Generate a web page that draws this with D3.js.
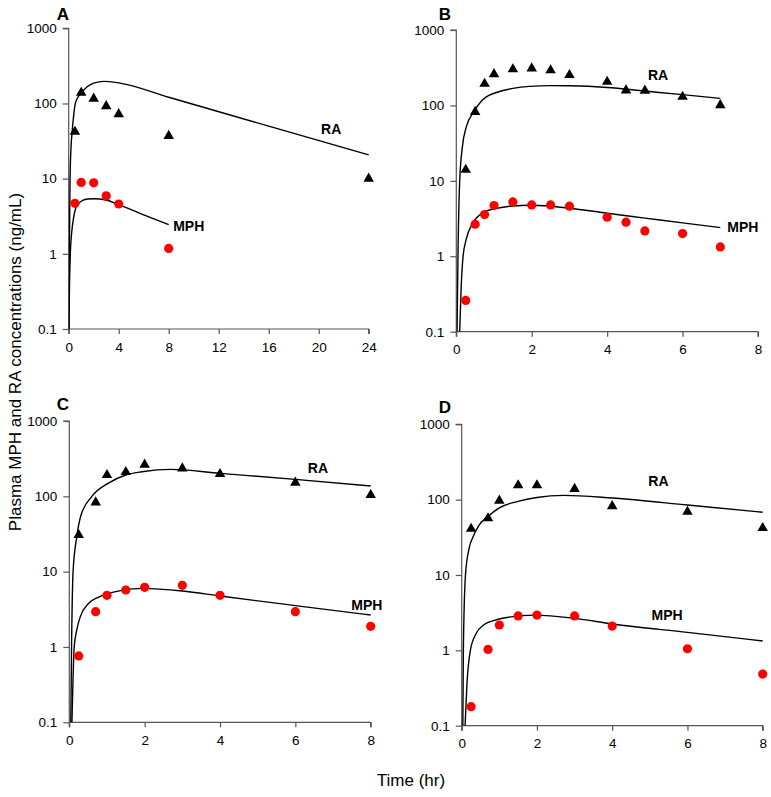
<!DOCTYPE html>
<html>
<head>
<meta charset="utf-8">
<script src="https://cdn.jsdelivr.net/npm/d3@7"></script>
<style>
  html, body { margin: 0; padding: 0; background: #fff; }
  svg { display: block; font-family: "Liberation Sans", Arial, sans-serif; }
</style>
</head>
<body>
<svg id="chart" width="771" height="797"></svg>
<script>
// ---------- Data ----------
const yTickValues = [0.1, 1, 10, 100, 1000];
const yTickLabels = ["0.1", "1", "10", "100", "1000"];
const xTicksA = [0, 4, 8, 12, 16, 20, 24];
const xTicksBCD = [0, 2, 4, 6, 8];
const panelLetters = ["A", "B", "C", "D"];
const xMaxes = [24, 8, 8, 8];

// Panel A observed
const obsTimeA = [0.5, 1, 2, 3, 4, 8, 24];
const raObsA = [42, 139, 116, 92, 72, 37, 10];
const mphTimeA = [0.5, 1, 2, 3, 4, 8];
const mphObsA = [4.7, 8.9, 8.8, 5.9, 4.6, 1.18];
// Panel A fitted curves
const raFitTimeA = [0.02, 0.05, 0.11, 0.18, 0.27, 0.4, 0.53, 0.75, 1, 1.5, 2, 2.8, 4, 8, 16, 24];
const raFitA = [0.1, 1, 10, 25, 41, 70, 100, 122, 138, 168, 187, 197, 188, 121, 50, 20.7];
const mphFitTimeA = [0.02, 0.06, 0.13, 0.25, 0.4, 0.6, 1, 1.5, 2, 3, 4, 6, 8];
const mphFitA = [0.1, 0.35, 1, 2.0, 3.08, 4.2, 5.0, 5.35, 5.4, 5.2, 4.5, 3.3, 2.44];

// Panel B observed
const obsTimeB = [0.25, 0.5, 0.75, 1, 1.5, 2, 2.5, 3, 4, 4.5, 5, 6, 7];
const raObsB = [14, 82, 194, 260, 301, 310, 292, 253, 206, 158, 157, 130, 101];
const mphObsB = [0.26, 2.66, 3.57, 4.71, 5.26, 4.8, 4.8, 4.61, 3.29, 2.83, 2.17, 2.0, 1.33];
// Panel B fitted curves
const raFitTimeB = [0.02, 0.044, 0.09, 0.16, 0.265, 0.47, 0.7, 1.15, 1.5, 1.94, 2.5, 3, 4, 5, 6, 7];
const raFitB = [0.1, 1, 10, 28, 52, 83, 119, 153, 168, 179, 183, 182, 173, 155, 139, 124];
const mphFitTimeB = [0.09, 0.13, 0.18, 0.26, 0.44, 0.71, 1, 1.5, 1.94, 2.5, 3, 4, 5, 6, 7];
const mphFitB = [0.1, 0.4, 1, 1.66, 2.77, 3.8, 4.25, 4.65, 4.75, 4.6, 4.34, 3.72, 3.21, 2.77, 2.4];

// Panel C observed
const obsTimeC = [0.25, 0.7, 1, 1.5, 2, 3, 4, 6, 8];
const raObsC = [30.7, 83, 192, 210, 263, 235, 198, 152, 104];
const mphObsC = [0.76, 2.94, 4.85, 5.71, 6.19, 6.59, 4.85, 2.94, 1.88];
// Panel C fitted curves
const raFitTimeC = [0.04, 0.06, 0.1, 0.2, 0.3, 0.6, 1.04, 1.5, 1.93, 2.7, 4, 6, 8];
const raFitC = [0.1, 1, 10, 29.3, 54, 100, 150, 192, 212, 228, 202, 168, 137];
const mphFitTimeC = [0.07, 0.1, 0.13, 0.2, 0.29, 0.51, 0.78, 1.2, 1.93, 3, 4, 6, 8];
const mphFitC = [0.1, 0.4, 1, 1.7, 2.51, 3.78, 4.6, 5.4, 6.0, 5.54, 4.75, 3.54, 2.66];

// Panel D observed
const obsTimeD = [0.25, 0.7, 1, 1.5, 2, 3, 4, 6, 8];
const raObsD = [41, 56.5, 97, 155, 155, 139, 82, 69, 42];
const mphObsD = [0.179, 1.03, 2.17, 2.86, 2.94, 2.86, 2.1, 1.05, 0.485];
// Panel D fitted curves
const raFitTimeD = [0.03, 0.044, 0.1, 0.2, 0.3, 0.45, 0.7, 1, 1.5, 2, 2.7, 4, 6, 8];
const raFitD = [0.1, 1, 10, 23, 32, 45, 60, 78, 95, 107, 114, 105, 85, 68];
const mphFitTimeD = [0.09, 0.14, 0.23, 0.38, 0.6, 0.87, 1.3, 1.93, 3, 4, 6, 8];
const mphFitD = [0.1, 0.36, 1, 1.66, 2.2, 2.5, 2.78, 2.93, 2.66, 2.24, 1.73, 1.33];

// Curve label anchors (data coordinates: time, value)
const raLabelPos = [[21, 45], [5.35, 255], [6.6, 240], [5.23, 177]];
const mphLabelPos = [[9.6, 2.35], [7.6, 2.4], [7.9, 3.55], [5.46, 2.94]];

// ---------- Layout ----------
const panelBoxes = [
  { x0: 68.7, x1: 368.7, yTop: 28.3, yBot: 329.0, lx: 63, ly: 20 },
  { x0: 456.3, x1: 758.0, yTop: 30.0, yBot: 331.7, lx: 445, ly: 20 },
  { x0: 69.3, x1: 370.7, yTop: 421.0, yBot: 722.3, lx: 63, ly: 410 },
  { x0: 461.7, x1: 762.7, yTop: 424.3, yBot: 725.7, lx: 445, ly: 413 }
];

const panels = [
  { xTicks: xTicksA, raT: obsTimeA, ra: raObsA, mphT: mphTimeA, mph: mphObsA,
    raFT: raFitTimeA, raF: raFitA, mphFT: mphFitTimeA, mphF: mphFitA },
  { xTicks: xTicksBCD, raT: obsTimeB, ra: raObsB, mphT: obsTimeB, mph: mphObsB,
    raFT: raFitTimeB, raF: raFitB, mphFT: mphFitTimeB, mphF: mphFitB },
  { xTicks: xTicksBCD, raT: obsTimeC, ra: raObsC, mphT: obsTimeC, mph: mphObsC,
    raFT: raFitTimeC, raF: raFitC, mphFT: mphFitTimeC, mphF: mphFitC },
  { xTicks: xTicksBCD, raT: obsTimeD, ra: raObsD, mphT: obsTimeD, mph: mphObsD,
    raFT: raFitTimeD, raF: raFitD, mphFT: mphFitTimeD, mphF: mphFitD }
];

const svg = d3.select("#chart");
const axisColor = "#555";
const tri = d3.symbol().type(d3.symbolTriangle).size(48);

panels.forEach((p, i) => {
  const b = panelBoxes[i];
  const x = d3.scaleLinear().domain([0, xMaxes[i]]).range([b.x0, b.x1]);
  const y = d3.scaleLog().domain([0.1, 1000]).range([b.yBot, b.yTop]);
  const g = svg.append("g");

  const clipId = "clip" + i;
  svg.append("clipPath").attr("id", clipId).append("rect")
    .attr("x", b.x0).attr("y", b.yTop).attr("width", b.x1 - b.x0 + 2).attr("height", b.yBot - b.yTop);

  // axes
  const yAxis = d3.axisLeft(y).tickValues(yTickValues)
    .tickFormat((d, k) => yTickLabels[k]).tickSize(6).tickPadding(6);
  const xAxis = d3.axisBottom(x).tickValues(p.xTicks).tickFormat(d3.format("d"))
    .tickSize(5).tickPadding(8);

  const ya = g.append("g").attr("transform", `translate(${b.x0},0)`).call(yAxis);
  const xa = g.append("g").attr("transform", `translate(0,${b.yBot})`).call(xAxis);
  [ya, xa].forEach(a => {
    a.select(".domain").attr("stroke", axisColor).attr("stroke-width", 1.2);
    a.selectAll(".tick line").attr("stroke", axisColor).attr("stroke-width", 1.2);
    a.selectAll(".tick text").attr("fill", "#000")
      .style("font-family", "'Liberation Sans', Arial, sans-serif").style("font-size", "13.5px");
  });
  ya.select(".domain").attr("d", `M-6,${b.yTop}H0V${b.yBot}`);
  xa.select(".domain").attr("d", `M${b.x0},5V0H${b.x1}V5`);

  // fitted curves
  const line = d3.line().x(d => x(d[0])).y(d => y(d[1])).curve(d3.curveMonotoneX);
  const cg = g.append("g").attr("clip-path", `url(#${clipId})`);
  cg.append("path").datum(p.raFT.map((t, k) => [t, p.raF[k]]))
    .attr("d", line).attr("fill", "none").attr("stroke", "#000").attr("stroke-width", 1.4);
  cg.append("path").datum(p.mphFT.map((t, k) => [t, p.mphF[k]]))
    .attr("d", line).attr("fill", "none").attr("stroke", "#000").attr("stroke-width", 1.4);

  // observed RA triangles
  g.append("g").selectAll("path").data(p.raT.map((t, k) => [t, p.ra[k]])).join("path")
    .attr("d", tri).attr("fill", "#000")
    .attr("transform", d => `translate(${x(d[0])},${y(d[1])})`);
  // observed MPH circles
  g.append("g").selectAll("circle").data(p.mphT.map((t, k) => [t, p.mph[k]])).join("circle")
    .attr("cx", d => x(d[0])).attr("cy", d => y(d[1])).attr("r", 4.6).attr("fill", "#ff0000");

  // curve labels
  g.append("text").attr("x", x(raLabelPos[i][0])).attr("y", y(raLabelPos[i][1]))
    .attr("text-anchor", "middle").attr("dy", "0.35em")
    .style("font-weight", "bold").style("font-size", "14px").text("RA");
  g.append("text").attr("x", x(mphLabelPos[i][0])).attr("y", y(mphLabelPos[i][1]))
    .attr("text-anchor", "middle").attr("dy", "0.35em")
    .style("font-weight", "bold").style("font-size", "14px").text("MPH");

  // panel letter
  svg.append("text").attr("x", b.lx).attr("y", b.ly).attr("text-anchor", "middle")
    .style("font-weight", "bold").style("font-size", "17px").text(panelLetters[i]);
});

// axis titles
svg.append("text").attr("transform", "translate(21,362) rotate(-90)")
  .attr("text-anchor", "middle").style("font-size", "17px")
  .text("Plasma MPH and RA concentrations (ng/mL)");
svg.append("text").attr("x", 411).attr("y", 786).attr("text-anchor", "middle")
  .style("font-size", "17px").text("Time (hr)");
</script>
</body>
</html>
